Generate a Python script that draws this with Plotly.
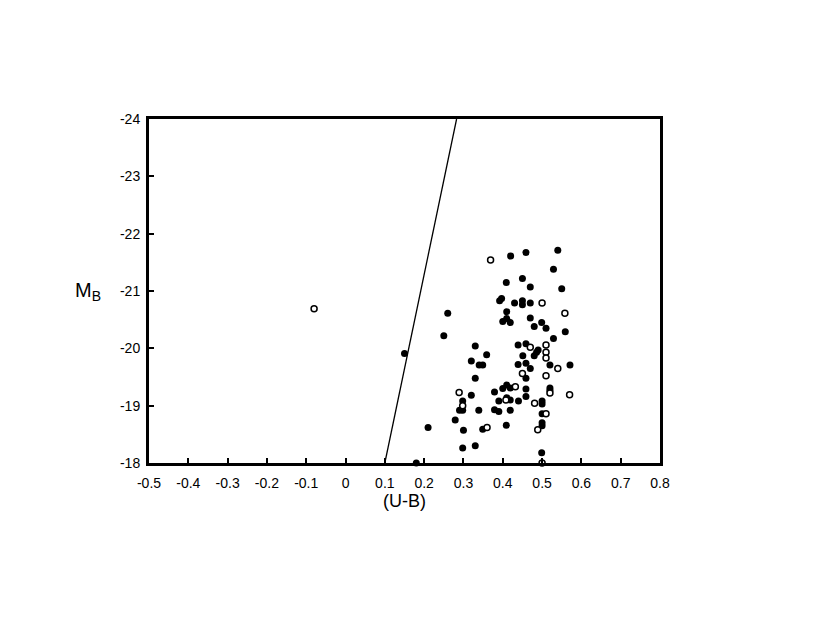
import plotly.graph_objects as go

# Filled (black) points: (U-B), M_B
filled_ub = [0.150, 0.180, 0.210, 0.250, 0.260, 0.279, 0.290, 0.298, 0.298, 0.300,
             0.298, 0.320, 0.320, 0.330, 0.330, 0.330, 0.339, 0.340, 0.349, 0.349,
             0.359, 0.379, 0.379, 0.390, 0.390, 0.392, 0.397, 0.400, 0.400, 0.409,
             0.410, 0.410, 0.410, 0.410, 0.409, 0.419, 0.419, 0.419, 0.419, 0.420,
             0.430, 0.439, 0.439, 0.440, 0.450, 0.450, 0.450, 0.451, 0.459, 0.459,
             0.459, 0.459, 0.459, 0.459, 0.470, 0.470, 0.470, 0.470, 0.480, 0.480,
             0.486, 0.490, 0.499, 0.500, 0.500, 0.500, 0.500, 0.500, 0.499, 0.510,
             0.520, 0.520, 0.520, 0.529, 0.529, 0.540, 0.550, 0.559, 0.571]
filled_mb = [-19.91, -18.00, -18.62, -20.22, -20.61, -18.75, -18.92, -18.92, -19.08, -18.57,
             -18.26, -19.78, -19.18, -20.04, -19.48, -18.30, -18.92, -19.71, -19.71, -18.59,
             -19.89, -19.24, -18.93, -19.08, -18.90, -20.83, -20.87, -20.47, -19.30, -21.15,
             -20.64, -20.52, -19.36, -19.14, -18.66, -20.45, -19.31, -19.10, -18.92, -21.61,
             -20.79, -20.06, -19.72, -19.08, -21.22, -20.83, -20.76, -19.87, -21.67, -20.08,
             -19.74, -19.48, -19.29, -19.16, -21.07, -20.79, -20.53, -19.65, -20.38, -19.87,
             -19.93, -19.97, -20.45, -19.08, -19.03, -18.86, -18.70, -18.65, -18.18, -20.35,
             -19.71, -19.31, -19.27, -21.38, -20.17, -21.71, -21.04, -20.29, -19.71]

# Open points
open_ub = [-0.080, 0.369, 0.500, 0.558, 0.470, 0.510, 0.510, 0.510, 0.540, 0.450,
           0.510, 0.432, 0.520, 0.289, 0.570, 0.408, 0.481, 0.510, 0.489, 0.360,
           0.500, 0.298]
open_mb = [-20.69, -21.54, -20.79, -20.61, -20.02, -20.06, -19.93, -19.83, -19.65, -19.56,
           -19.52, -19.33, -19.22, -19.23, -19.19, -19.10, -19.04, -18.86, -18.58, -18.62,
           -18.00, -19.00]

# Dividing line
line_ub = [0.100, 0.2825]
line_mb = [-18.0, -24.0]

x_ticks = [-0.5, -0.4, -0.3, -0.2, -0.1, 0, 0.1, 0.2, 0.3, 0.4, 0.5, 0.6, 0.7, 0.8]
x_ticklabels = ["-0.5", "-0.4", "-0.3", "-0.2", "-0.1", "0", "0.1", "0.2", "0.3",
                "0.4", "0.5", "0.6", "0.7", "0.8"]
y_ticks = [-24, -23, -22, -21, -20, -19, -18]
y_ticklabels = ["-24", "-23", "-22", "-21", "-20", "-19", "-18"]

fig = go.Figure()
fig.add_trace(go.Scatter(x=line_ub, y=line_mb, mode="lines",
                         line=dict(color="black", width=1.3), showlegend=False,
                         hoverinfo="skip"))
fig.add_trace(go.Scatter(x=filled_ub, y=filled_mb, mode="markers",
                         marker=dict(symbol="circle", size=7, color="black",
                                     line=dict(width=0)),
                         cliponaxis=False, showlegend=False))
fig.add_trace(go.Scatter(x=open_ub, y=open_mb, mode="markers",
                         marker=dict(symbol="circle", size=6, color="white",
                                     line=dict(width=1.5, color="black")),
                         cliponaxis=False, showlegend=False))

font_family = "Liberation Sans, Arial, sans-serif"
fig.update_layout(
    width=830, height=642,
    margin=dict(l=141, r=178, t=111, b=187),
    paper_bgcolor="white", plot_bgcolor="white",
    font=dict(family=font_family, color="black", size=14),
    xaxis=dict(range=[-0.5, 0.8], tickvals=x_ticks, ticktext=x_ticklabels,
               showgrid=False, zeroline=False, showline=True, linewidth=3,
               linecolor="black", mirror=True, ticks="inside", ticklen=5,
               tickwidth=2, tickcolor="black", tickfont=dict(size=14),
               ticklabelstandoff=5,
               title=dict(text="(U-B)", font=dict(size=18), standoff=0)),
    yaxis=dict(range=[-18, -24], tickvals=y_ticks, ticktext=y_ticklabels,
               showgrid=False, zeroline=False, showline=True, linewidth=3,
               linecolor="black", mirror=True, ticks="inside", ticklen=5,
               tickwidth=2, tickcolor="black", tickfont=dict(size=14),
               ticklabelstandoff=3),
    annotations=[dict(text="M<sub>B</sub>", xref="paper", yref="paper",
                      x=-0.119, y=0.50, xanchor="center", yanchor="middle",
                      showarrow=False, font=dict(size=20, family=font_family))],
)

fig.write_html("out.html")
